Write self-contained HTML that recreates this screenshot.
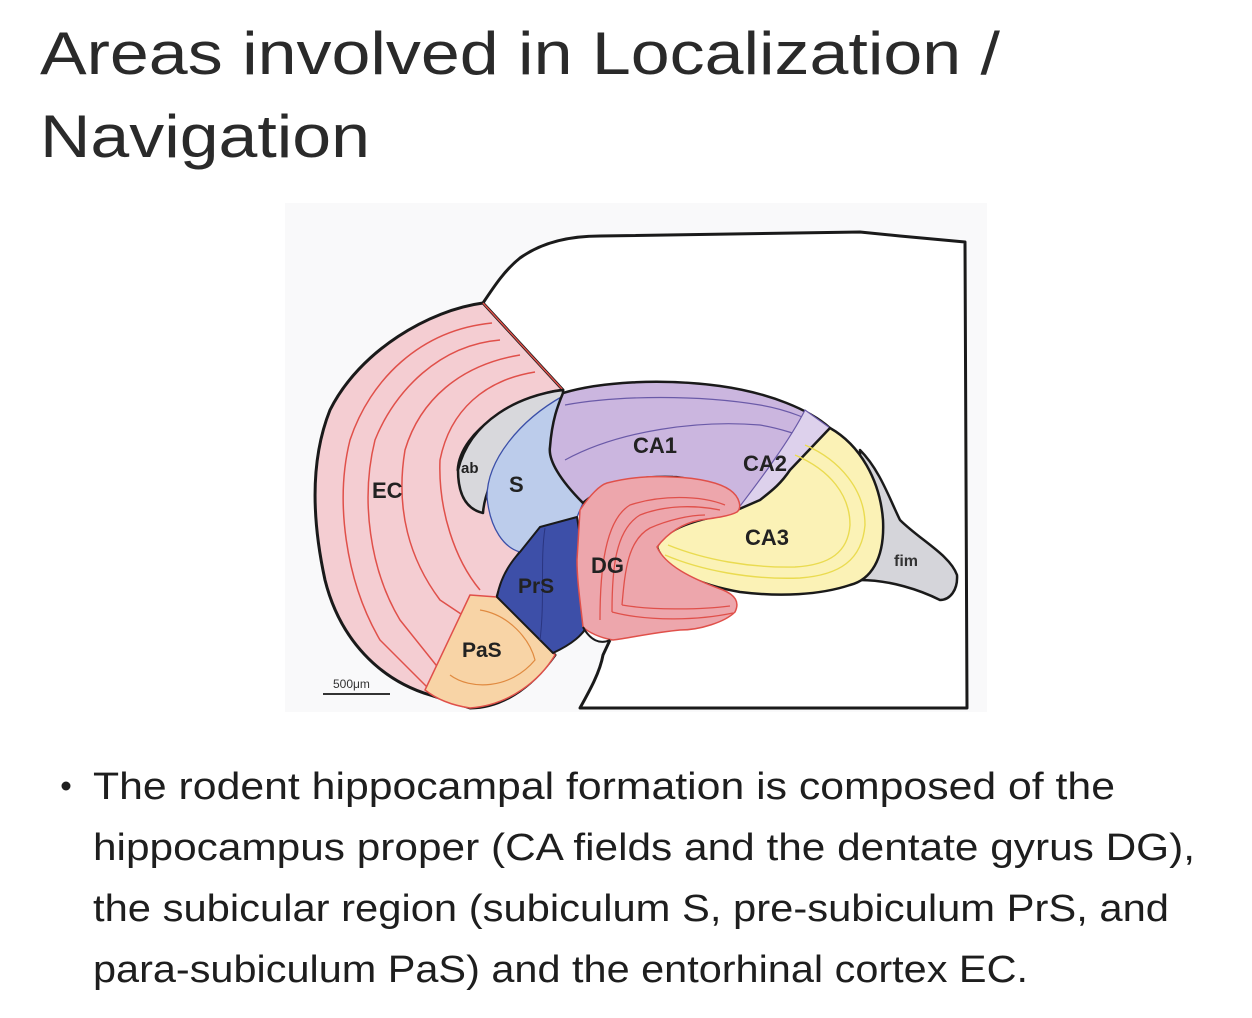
<!DOCTYPE html>
<html><head><meta charset="utf-8"><style>
html,body{margin:0;padding:0;background:#fff;}
svg{display:block;}
</style></head><body>
<svg width="1252" height="1018" viewBox="0 0 1252 1018" xmlns="http://www.w3.org/2000/svg">
<rect width="1252" height="1018" fill="#fff"/>
<text x="40" y="74" font-family="Liberation Sans, sans-serif" font-size="60" fill="#2a2a2a" textLength="960" lengthAdjust="spacingAndGlyphs">Areas involved in Localization /</text>
<text x="40" y="157" font-family="Liberation Sans, sans-serif" font-size="60" fill="#2a2a2a" textLength="330" lengthAdjust="spacingAndGlyphs">Navigation</text>
<rect x="285" y="203" width="702" height="509" fill="#f9f9fa"/>
<g stroke-linejoin="round">
<path d="M483,303 C495,285 505,270 520,258 C545,240 575,236 600,236 L860,232 L900,236 L965,242 L967,708 L580,708 C590,690 600,672 603,655 L610,640" fill="#fff" stroke="#1a1a1a" stroke-width="3"/>
<path d="M483,303 C430,310 360,350 330,410 C310,460 312,520 325,580 C340,640 380,680 430,695 L470,708 C500,708 530,690 555,655 L497,597 C505,570 515,560 520,552 L487,497 L458,470 C460,430 520,395 563,390 Z" fill="#f4cdd2" stroke="#1a1a1a" stroke-width="3"/>
<g fill="none" stroke="#e0504a" stroke-width="1.5">
<path d="M483,303 L563,390"/>
<path d="M492,323 C420,330 370,380 350,440 C335,500 345,580 380,640 L430,690"/>
<path d="M500,340 C440,345 395,390 375,440 C360,500 370,570 400,620 L440,670"/>
<path d="M520,355 C460,365 420,400 405,450 C395,510 410,560 440,600 L470,620"/>
<path d="M535,372 C485,380 450,410 440,460 C438,510 455,560 480,590"/>
<path d="M470,595 L430,690"/>
</g>
<path d="M470,595 L497,597 L555,655 C540,680 510,705 470,708 C450,705 435,698 425,690 Z" fill="#f8d4a6" stroke="#e0504a" stroke-width="1.5"/>
<path d="M480,610 C510,615 530,640 535,660 C510,690 470,690 450,675" fill="none" stroke="#e08a40" stroke-width="1.2"/>
<path d="M563,390 C520,395 470,420 458,470 C458,500 470,510 483,513 C485,480 520,420 563,398 Z" fill="#d8d8dc" stroke="#1a1a1a" stroke-width="2.5"/>
<path d="M563,396 C520,420 487,460 487,497 C490,530 505,548 520,552 L540,527 L577,517 L583,503 C560,480 548,460 550,447 C552,420 558,405 563,396 Z" fill="#bccceb" stroke="#3b4fa8" stroke-width="1.3"/>
<path d="M520,552 C508,565 500,580 497,597 L553,653 C570,645 585,635 590,620 C590,590 582,550 577,517 L540,527 Z" fill="#3d4fa8" stroke="#1a1a1a" stroke-width="2"/>
<path d="M545,528 C540,560 545,600 540,640" fill="none" stroke="#2a3580" stroke-width="1"/>
<path d="M563,393 C600,382 660,378 720,386 C770,393 810,410 830,428 L790,470 C780,485 770,492 760,500 L737,510 C720,490 690,477 673,477 C640,476 610,480 583,503 C560,480 548,460 550,447 C552,420 558,405 563,393 Z" fill="#cbb6df" stroke="#1a1a1a" stroke-width="2.5"/>
<path d="M565,405 C620,395 700,395 760,405 C790,410 810,420 830,430" fill="none" stroke="#6a5aa8" stroke-width="1.2"/>
<path d="M565,460 C620,430 700,420 760,425 C790,430 810,440 825,445" fill="none" stroke="#6a5aa8" stroke-width="1.2"/>
<path d="M805,410 L830,428 L790,470 C780,485 770,492 760,500 L737,510 C760,480 790,440 805,410 Z" fill="#ddd1ec" stroke="#6a5aa8" stroke-width="1.2"/>
<path d="M860,450 C880,470 890,500 900,520 C920,540 950,555 957,575 C958,590 950,600 940,600 C920,590 890,580 860,580 Z" fill="#d5d5da" stroke="#1a1a1a" stroke-width="2.5"/>
<path d="M830,428 C860,445 880,480 883,520 C885,560 870,580 850,585 C820,595 780,597 740,592 C700,585 665,570 657,547 C665,530 690,522 713,517 L737,510 L760,500 C770,492 780,485 790,470 Z" fill="#fbf2b6" stroke="#1a1a1a" stroke-width="2.5"/>
<g fill="none" stroke="#eadb50" stroke-width="1.4">
<path d="M805,445 C840,460 865,490 865,525 C862,560 840,575 800,578 C750,580 700,570 665,555"/>
<path d="M795,455 C830,470 850,495 850,525 C848,552 830,565 795,567 C750,568 705,560 668,545"/>
</g>
<path d="M580,510 C590,495 600,485 607,483 C630,477 650,476 673,477 C700,478 720,483 730,490 C740,497 742,508 737,512 C730,516 715,518 700,520 C685,523 670,530 657,547 C665,565 690,578 723,590 C735,595 740,602 735,612 C725,622 700,630 680,630 C650,633 630,638 613,640 C600,638 588,632 583,627 C580,600 577,580 577,560 Z" fill="#eda6ac" stroke="#e0504a" stroke-width="1.5"/>
<g fill="none" stroke="#e0504a" stroke-width="1.3">
<path d="M600,620 C600,570 605,520 630,505 C660,495 700,495 725,505"/>
<path d="M612,612 C612,570 615,530 640,515 C665,505 695,505 720,510"/>
<path d="M622,605 C625,570 628,540 650,528 C668,520 690,515 705,515"/>
<path d="M622,605 C650,610 700,610 730,606"/>
<path d="M612,612 C650,622 700,620 733,613"/>
</g>
<path d="M583,627 C590,640 600,645 610,640" fill="none" stroke="#1a1a1a" stroke-width="2"/>
</g>
<g font-family="Liberation Sans, sans-serif" font-weight="bold" fill="#222">
<text x="372" y="498" font-size="22">EC</text>
<text x="461" y="473" font-size="15">ab</text>
<text x="509" y="492" font-size="22">S</text>
<text x="633" y="453" font-size="22">CA1</text>
<text x="743" y="471" font-size="22">CA2</text>
<text x="745" y="545" font-size="22">CA3</text>
<text x="591" y="573" font-size="22">DG</text>
<text x="518" y="593" font-size="21">PrS</text>
<text x="462" y="657" font-size="21">PaS</text>
<text x="894" y="566" font-size="16" fill="#333">fim</text>
<text x="333" y="688" font-size="12" font-weight="normal" fill="#333">500μm</text>
</g>
<line x1="323" y1="694" x2="390" y2="694" stroke="#333" stroke-width="2"/>
<g font-family="Liberation Sans, sans-serif" font-size="38" fill="#1e1e1e">
<circle cx="66" cy="786" r="4.5" fill="#1e1e1e"/>
<text x="93" y="799" textLength="1022" lengthAdjust="spacingAndGlyphs">The rodent hippocampal formation is composed of the</text>
<text x="93" y="860" textLength="1102" lengthAdjust="spacingAndGlyphs">hippocampus proper (CA fields and the dentate gyrus DG),</text>
<text x="93" y="921" textLength="1076" lengthAdjust="spacingAndGlyphs">the subicular region (subiculum S, pre-subiculum PrS, and</text>
<text x="93" y="982" textLength="935" lengthAdjust="spacingAndGlyphs">para-subiculum PaS) and the entorhinal cortex EC.</text>
</g>
</svg>
</body></html>
